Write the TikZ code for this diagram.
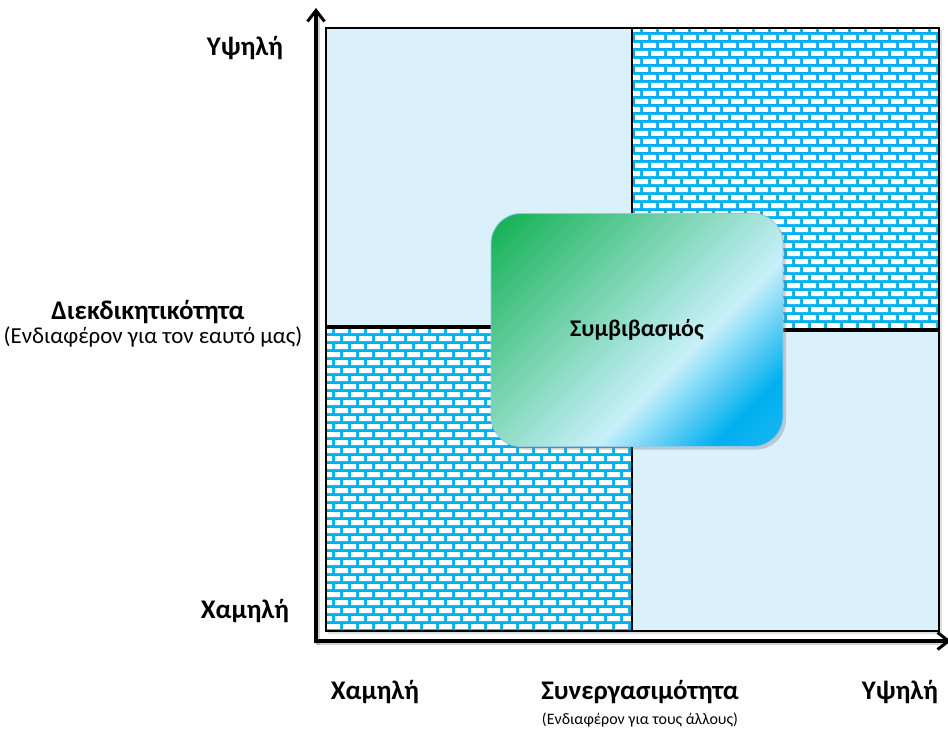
\documentclass[tikz,border=0pt]{standalone}
\usepackage{fontspec}
\setmainfont{Carlito}
\usetikzlibrary{arrows.meta,shadows}

\definecolor{quadfill}{RGB}{218,240,251}
\definecolor{brickblue}{RGB}{0,176,240}
\definecolor{boxgreen}{RGB}{16,176,80}
\definecolor{boxlight}{RGB}{200,240,250}
\definecolor{boxblue}{RGB}{0,176,240}
\definecolor{boxend}{RGB}{70,192,240}
\definecolor{boxedge}{RGB}{150,200,225}

% diagonal green-to-blue fill of the central box
\pgfdeclarehorizontalshading{boxshade}{100bp}{%
  color(0bp)=(boxgreen); color(15bp)=(boxgreen); color(60bp)=(boxlight);
  color(76bp)=(boxblue); color(100bp)=(boxend)}

\tikzset{
  quad/.style={draw=black, line width=1.3bp},
  axisline/.style={line width=3.4bp, -{Straight Barb[length=11bp,width=17bp,line width=3bp]}},
  axisshadow/.style={line width=4bp, draw=black, opacity=0.18, line cap=round},
  lab/.style={font=\fontsize{27}{30}\selectfont\bfseries, inner sep=0pt},
  sublab/.style={font=\fontsize{16}{19}\selectfont, inner sep=0pt},
  bigsublab/.style={font=\fontsize{23}{27}\selectfont, inner sep=0pt},
  centerbox/.style={rounded corners=30bp, shading=boxshade, shading angle=-45,
    draw=boxedge, line width=0.8bp,
    drop shadow={opacity=0.35, shadow xshift=3bp, shadow yshift=-3bp}},
}

\begin{document}
\begin{tikzpicture}[x=1bp, y=-1bp]
\useasboundingbox (0,0) rectangle (948,733);

% quadrant corners
\coordinate (tl1) at (326,28);  \coordinate (tl2) at (632,326);
\coordinate (bl1) at (326,328); \coordinate (bl2) at (632,631);
\coordinate (tr1) at (632,28);  \coordinate (tr2) at (939,329);
\coordinate (br1) at (632,331); \coordinate (br2) at (939,631);

% faint shadow under the quadrant block
\fill[black, opacity=0.12] (328,30) rectangle (942,634);

% plain quadrants
\fill[quadfill] (tl1) rectangle (tl2);
\fill[quadfill] (br1) rectangle (br2);

% brick-patterned quadrants
\begin{scope}
  \clip (bl1) rectangle (bl2);
  \fill[brickblue] (bl1) rectangle (bl2);
  \fill[white] \foreach \r in {0,...,38} {\foreach \c in {-1,...,19}
    {({335-8*mod(\r,2)+16*\c},{328+8*\r}) rectangle ++(13,5)}};
\end{scope}
\begin{scope}
  \clip (tr1) rectangle (tr2);
  \fill[brickblue] (tr1) rectangle (tr2);
  \fill[white] \foreach \r in {0,...,38} {\foreach \c in {-1,...,19}
    {({643-8*mod(\r,2)+16*\c},{27+8*\r}) rectangle ++(13,5)}};
\end{scope}

% quadrant outlines
\draw[quad] (tl1) rectangle (tl2);
\draw[quad] (bl1) rectangle (bl2);
\draw[quad] (tr1) rectangle (tr2);
\draw[quad] (br1) rectangle (br2);

% axes
\coordinate (origin) at (316,641);
\coordinate (ytip) at (316,8);
\coordinate (xtip) at (951,641);
\draw[axisshadow] (318,643) -- (318,16);
\draw[axisshadow] (318,643) -- (944,643);
\draw[axisline] (origin) -- (ytip);
\draw[axisline] ([xshift=-1.7bp]origin) -- (xtip);

% central box
\node[centerbox, minimum width=292bp, minimum height=233bp] (compromise) at (637,330) {};
\node[font=\fontsize{24}{28}\selectfont\bfseries] (comptext) at (compromise.center) {Συμβιβασμός};

% vertical axis labels
\node[lab] (yhigh) at (245,48) {Υψηλή};
\node[lab] (ytitle) at (148,312) {Διεκδικητικότητα};
\node[bigsublab] (ysub) at (153,337) {(Ενδιαφέρον για τον εαυτό μας)};
\node[lab] (ylow) at (245,611) {Χαμηλή};

% horizontal axis labels
\node[lab] (xlow) at (375,692) {Χαμηλή};
\node[lab] (xtitle) at (640,692) {Συνεργασιμότητα};
\node[sublab] (xsub) at (640,720) {(Ενδιαφέρον για τους άλλους)};
\node[lab] (xhigh) at (900,692) {Υψηλή};
\end{tikzpicture}
\end{document}
